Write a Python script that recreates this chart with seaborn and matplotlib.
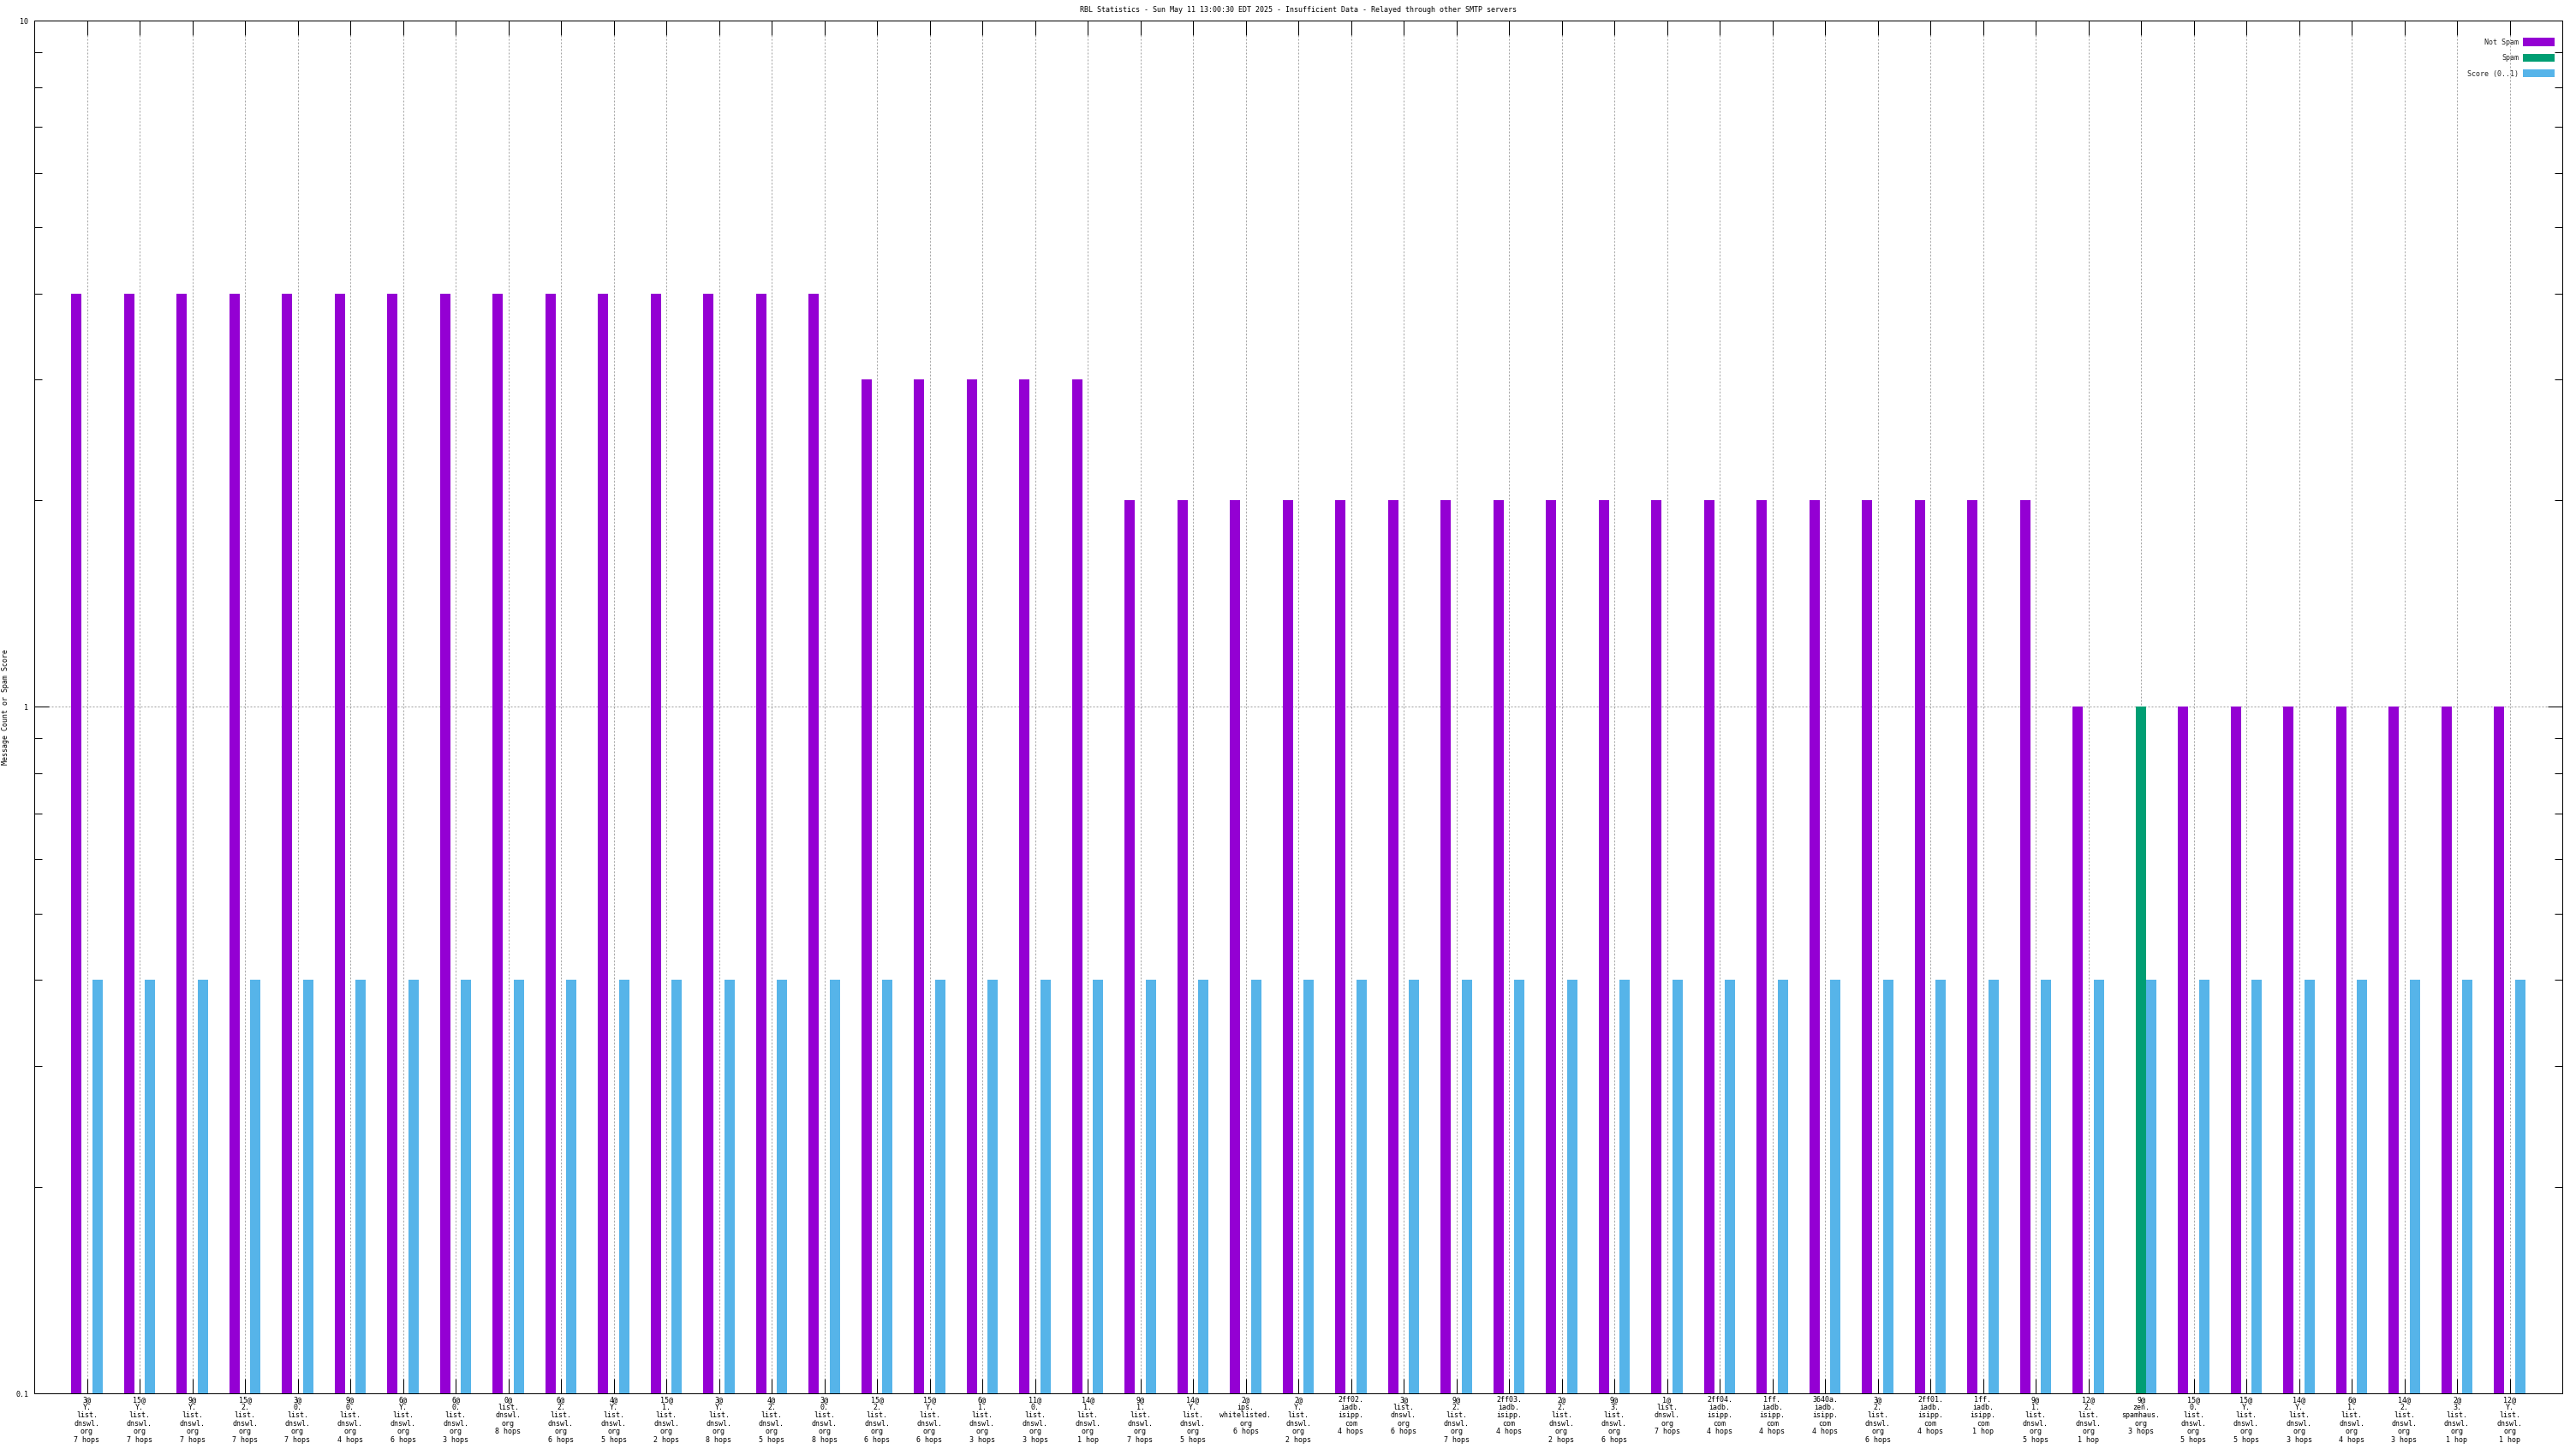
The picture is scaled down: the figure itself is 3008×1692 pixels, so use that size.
import matplotlib
matplotlib.use("Agg")
import matplotlib.pyplot as plt
import matplotlib.ticker as mticker
from matplotlib.patches import Patch
import seaborn as sns
import pandas as pd
import numpy as np

# ---------------- data ----------------
labels = [
    "3@\nY.\nlist.\ndnswl.\norg\n7 hops",
    "15@\nY.\nlist.\ndnswl.\norg\n7 hops",
    "9@\nY.\nlist.\ndnswl.\norg\n7 hops",
    "15@\n2.\nlist.\ndnswl.\norg\n7 hops",
    "3@\n0.\nlist.\ndnswl.\norg\n7 hops",
    "9@\n0.\nlist.\ndnswl.\norg\n4 hops",
    "6@\nY.\nlist.\ndnswl.\norg\n6 hops",
    "6@\n0.\nlist.\ndnswl.\norg\n3 hops",
    "0@\nlist.\ndnswl.\norg\n8 hops",
    "6@\n2.\nlist.\ndnswl.\norg\n6 hops",
    "4@\nY.\nlist.\ndnswl.\norg\n5 hops",
    "15@\n1.\nlist.\ndnswl.\norg\n2 hops",
    "3@\nY.\nlist.\ndnswl.\norg\n8 hops",
    "4@\n2.\nlist.\ndnswl.\norg\n5 hops",
    "3@\n0.\nlist.\ndnswl.\norg\n8 hops",
    "15@\n2.\nlist.\ndnswl.\norg\n6 hops",
    "15@\nY.\nlist.\ndnswl.\norg\n6 hops",
    "6@\n1.\nlist.\ndnswl.\norg\n3 hops",
    "11@\n0.\nlist.\ndnswl.\norg\n3 hops",
    "14@\n1.\nlist.\ndnswl.\norg\n1 hop",
    "9@\n1.\nlist.\ndnswl.\norg\n7 hops",
    "14@\nY.\nlist.\ndnswl.\norg\n5 hops",
    "2@\nips.\nwhitelisted.\norg\n6 hops",
    "2@\nY.\nlist.\ndnswl.\norg\n2 hops",
    "2ff02.\niadb.\nisipp.\ncom\n4 hops",
    "3@\nlist.\ndnswl.\norg\n6 hops",
    "9@\n2.\nlist.\ndnswl.\norg\n7 hops",
    "2ff03.\niadb.\nisipp.\ncom\n4 hops",
    "2@\n2.\nlist.\ndnswl.\norg\n2 hops",
    "9@\n3.\nlist.\ndnswl.\norg\n6 hops",
    "1@\nlist.\ndnswl.\norg\n7 hops",
    "2ff04.\niadb.\nisipp.\ncom\n4 hops",
    "1ff.\niadb.\nisipp.\ncom\n4 hops",
    "3640a.\niadb.\nisipp.\ncom\n4 hops",
    "3@\n2.\nlist.\ndnswl.\norg\n6 hops",
    "2ff01.\niadb.\nisipp.\ncom\n4 hops",
    "1ff.\niadb.\nisipp.\ncom\n1 hop",
    "9@\n1.\nlist.\ndnswl.\norg\n5 hops",
    "12@\n2.\nlist.\ndnswl.\norg\n1 hop",
    "9@\nzen.\nspamhaus.\norg\n3 hops",
    "15@\n0.\nlist.\ndnswl.\norg\n5 hops",
    "15@\nY.\nlist.\ndnswl.\norg\n5 hops",
    "14@\nY.\nlist.\ndnswl.\norg\n3 hops",
    "6@\n1.\nlist.\ndnswl.\norg\n4 hops",
    "14@\n2.\nlist.\ndnswl.\norg\n3 hops",
    "2@\n3.\nlist.\ndnswl.\norg\n1 hop",
    "12@\nY.\nlist.\ndnswl.\norg\n1 hop",
]

not_spam = [4, 4, 4, 4, 4, 4, 4, 4, 4, 4, 4, 4, 4, 4, 4,
            3, 3, 3, 3, 3,
            2, 2, 2, 2, 2, 2, 2, 2, 2, 2, 2, 2, 2, 2, 2, 2, 2, 2,
            1, 0, 1, 1, 1, 1, 1, 1, 1]
spam = [0] * 39 + [1] + [0] * 7
score = [0.4] * 47

series_names = ["Not Spam", "Spam", "Score (0..1)"]
series_colors = ["#9400D3", "#009E73", "#56B4E9"]

title = ("RBL Statistics - Sun May 11 13:00:30 EDT 2025 - Insufficient Data - "
         "Relayed through other SMTP servers")
ylabel = "Message Count or Spam Score"

# ---------------- long-form table ----------------
n = len(labels)
df = pd.DataFrame({
    "idx": list(range(n)) * 3,
    "series": [series_names[0]] * n + [series_names[1]] * n + [series_names[2]] * n,
    "value": list(not_spam) + list(spam) + list(score),
})

# ---------------- figure ----------------
W, H, DPI = 3008, 1692, 100
sns.set_theme(style="white")
plt.rcParams["font.family"] = ["DejaVu Sans Mono", "DejaVu Sans"]
FS = 6

fig = plt.figure(figsize=(W / DPI, H / DPI), dpi=DPI)
L, R, T, B = 40, 2992, 24, 1627
ax = fig.add_axes([L / W, 1 - B / H, (R - L) / W, (B - T) / H])
ax.set_yscale("log")

sns.barplot(data=df, x="idx", y="value", hue="series", hue_order=series_names,
            palette=series_colors, width=0.6, dodge=True, errorbar=None,
            saturation=1, linewidth=0, legend=False, ax=ax)

ax.set_ylim(0.1, 10)
ax.set_xlim(-1, n)

# ticks
px = 0.72  # 1 px in points at 100 dpi
ax.set_xticks(range(n))
ax.set_xticklabels(labels, fontsize=FS, linespacing=1.05, color="black")
ax.yaxis.set_major_locator(mticker.FixedLocator([0.1, 1, 10]))
ax.yaxis.set_major_formatter(mticker.FixedFormatter(["0.1", "1", "10"]))
ax.yaxis.set_minor_locator(mticker.LogLocator(base=10, subs=np.arange(2, 10)))
ax.yaxis.set_minor_formatter(mticker.NullFormatter())
ax.tick_params(axis="both", which="major", direction="in", length=17 * px,
               width=1 * px, color="black", labelsize=FS, labelcolor="black")
ax.tick_params(axis="y", which="minor", direction="in", length=9 * px,
               width=1 * px, color="black", left=True, right=True)
ax.tick_params(axis="x", which="major", top=True, bottom=True, pad=2)
ax.tick_params(axis="y", which="major", left=True, right=True, pad=5)

# grid
ax.set_axisbelow(True)
ax.grid(True, which="major", axis="both", color="#a0a0a0", linewidth=1 * px,
        linestyle=(0, (2, 2)))
ax.grid(False, which="minor")

for s in ax.spines.values():
    s.set_color("black")
    s.set_linewidth(1 * px)
    s.set_visible(True)

ax.set_xlabel("")
ax.set_ylabel(ylabel, fontsize=FS, color="black")
ax.yaxis.set_label_coords((11 - L) / (R - L), 0.5)

fig.text(0.5 * (L + R) / W, 1 - 12 / H, title, ha="center", va="center",
         fontsize=FS, color="black")

# legend (gnuplot style: text left, sample right)
handles = [Patch(facecolor=c, edgecolor="none") for c in series_colors]
fs_px = FS / 72 * DPI
ax.legend(handles, series_names, loc="upper right",
          bbox_to_anchor=((2983 - L) / (R - L), 1 - (44.5 - T) / (B - T)),
          markerfirst=False, frameon=False, fontsize=FS,
          handlelength=37 / fs_px, handleheight=11 / fs_px,
          handletextpad=5 / fs_px, labelspacing=9 / fs_px,
          borderpad=0, borderaxespad=0)

fig.savefig("out.png", dpi=DPI, facecolor="white")
